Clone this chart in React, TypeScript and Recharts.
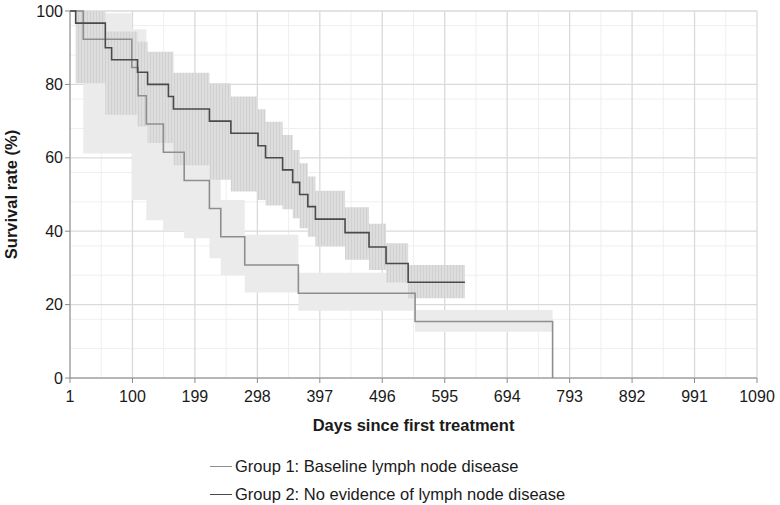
import React from 'react';
import {
  ComposedChart, Line, Area, XAxis, YAxis, CartesianGrid, Label
} from 'recharts';

// Kaplan-Meier steps, group 1 (baseline lymph node disease)
const g1Days = [1, 22, 99, 109, 122, 149, 182, 222, 240, 278, 363, 548, 766, 766];
const g1Surv = [100, 92.3, 84.6, 76.9, 69.2, 61.5, 53.8, 46.2, 38.5, 30.8, 23.1, 15.4, 15.4, 0];

// group 1 confidence band
const g1BandDays = [22, 99, 122, 149, 182, 222, 240, 278, 363, 548, 766];
const g1Lower = [61.2, 48.5, 43, 40.3, 38.1, 32.6, 28, 23.3, 18.3, 12.6, 12.6];
const g1Upper = [99.4, 95, 88, 82, 75, 57, 48.5, 39, 28.7, 18.5, 18.5];

// group 2 (no evidence of lymph node disease)
const g2Days = [1, 10, 57, 67, 108, 124, 157, 165, 222, 256, 299, 311, 338, 354, 365, 378, 390, 437, 475, 502, 537, 627];
const g2Surv = [100, 96.7, 90, 86.7, 83.3, 80, 76.7, 73.3, 70, 66.7, 63.3, 60, 56.7, 53.3, 50, 46.7, 43.3, 39.6, 35.7, 31.2, 26.1, 26.1];

const g2BandDays = [10, 57, 108, 124, 165, 222, 256, 299, 311, 338, 354, 365, 378, 390, 437, 475, 502, 537, 627];
const g2Lower = [80.3, 71.7, 68.5, 64, 58, 54, 50.8, 48.5, 47, 46, 43.5, 40.8, 38.5, 35.8, 32.2, 29.4, 26, 21.7, 21.7];
const g2Upper = [100, 94.4, 91.6, 88.9, 83.2, 80.3, 76.7, 73.2, 69.8, 66.2, 62.1, 58.5, 54.9, 51, 46.5, 42, 36.7, 30.8, 30.8];

const xTicks = [1, 100, 199, 298, 397, 496, 595, 694, 793, 892, 991, 1090];
const yTicks = [0, 20, 40, 60, 80, 100];

const legendItems = [
  { label: 'Group 1: Baseline lymph node disease', color: '#8e8e8e' },
  { label: 'Group 2: No evidence of lymph node disease', color: '#4a4a4a' },
];

const g1Line = g1Days.map((d, i) => ({ day: d, surv: g1Surv[i] }));
const g2Line = g2Days.map((d, i) => ({ day: d, surv: g2Surv[i] }));
const g1Band = g1BandDays.map((d, i) => ({ day: d, range: [g1Lower[i], g1Upper[i]] }));
const g2Band = g2BandDays.map((d, i) => ({ day: d, range: [g2Lower[i], g2Upper[i]] }));

// minor grid lines between the major ticks
const minorX = xTicks.slice(1).map((t, i) => (t + xTicks[i]) / 2);
const minorY: number[] = [];
yTicks.slice(1).forEach((t, i) => {
  for (let k = 1; k < 5; k++) minorY.push(yTicks[i] + (k * (t - yTicks[i])) / 5);
});

const FONT = '"Liberation Sans", Arial, Helvetica, sans-serif';

export default function App() {
  return (
    <div style={{ position: 'absolute', left: 0, top: 0, width: 780, height: 505, background: '#fff', fontFamily: FONT }}>
      <svg width={0} height={0} style={{ position: 'absolute' }}>
        <defs>
          <pattern id="hatch" width={3} height={10} patternUnits="userSpaceOnUse">
            <rect width={3} height={10} fill="#dddddd" />
            <line x1={0.5} y1={0} x2={0.5} y2={10} stroke="#d1d1d1" strokeWidth={1} />
          </pattern>
        </defs>
      </svg>
      <ComposedChart
        width={780}
        height={505}
        margin={{ top: 11, right: 23, left: 0, bottom: 72 }}
        style={{ fontFamily: FONT }}
      >
        <CartesianGrid
          stroke="#efefef"
          verticalValues={minorX}
          horizontalValues={minorY}
        />
        <CartesianGrid stroke="#dadada" strokeWidth={1.3} />
        <XAxis
          dataKey="day"
          type="number"
          domain={[1, 1090]}
          ticks={xTicks}
          allowDataOverflow
          height={55}
          stroke="#8a8a8a"
          tickSize={5}
          tickMargin={8}
          tick={{ fill: '#1a1a1a', fontSize: 16 }}
        >
          <Label
            content={() => (
              <text x={413.5} y={425} textAnchor="middle" dominantBaseline="central"
                fontSize={16.5} fontWeight="bold" fill="#1a1a1a" fontFamily={FONT}>
                Days since first treatment
              </text>
            )}
          />
        </XAxis>
        <YAxis
          type="number"
          domain={[0, 100]}
          ticks={yTicks}
          width={70}
          stroke="#8a8a8a"
          tickSize={5}
          tickMargin={2}
          tick={{ fill: '#1a1a1a', fontSize: 16 }}
        >
          <Label
            content={() => (
              <text x={11} y={194.5} transform="rotate(-90 11 194.5)" textAnchor="middle"
                dominantBaseline="central" fontSize={16.5} fontWeight="bold" fill="#1a1a1a" fontFamily={FONT}>
                Survival rate (%)
              </text>
            )}
          />
        </YAxis>
        <Area
          data={g1Band}
          dataKey="range"
          type="stepAfter"
          fill="#ebebeb"
          fillOpacity={1}
          stroke="none"
          isAnimationActive={false}
          activeDot={false}
        />
        <Area
          data={g2Band}
          dataKey="range"
          type="stepAfter"
          fill="url(#hatch)"
          fillOpacity={1}
          stroke="none"
          isAnimationActive={false}
          activeDot={false}
        />
        <Line
          data={g1Line}
          dataKey="surv"
          type="stepAfter"
          stroke="#8e8e8e"
          strokeWidth={1.6}
          dot={false}
          activeDot={false}
          isAnimationActive={false}
        />
        <Line
          data={g2Line}
          dataKey="surv"
          type="stepAfter"
          stroke="#4a4a4a"
          strokeWidth={1.6}
          dot={false}
          activeDot={false}
          isAnimationActive={false}
        />
      </ComposedChart>
      <div style={{ position: 'absolute', left: 210, top: 452 }}>
        {legendItems.map((it) => (
          <div key={it.label} style={{ display: 'flex', alignItems: 'center', height: 28, fontSize: 16.5, color: '#1a1a1a' }}>
            <span style={{ display: 'inline-block', width: 22, height: 0, borderTop: `1.5px solid ${it.color}`, marginRight: 3 }} />
            <span>{it.label}</span>
          </div>
        ))}
      </div>
    </div>
  );
}
